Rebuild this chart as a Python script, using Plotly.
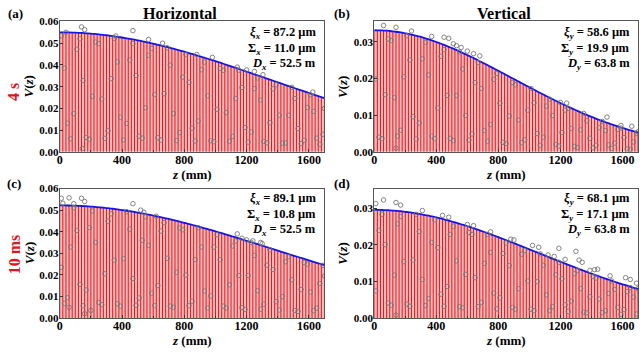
import plotly.graph_objects as go

# ---------------- data ----------------
Z_FRINGE = list(range(0, 1701, 20))     # fringe positions (mm)
Z_CIRC = list(range(10, 1700, 20))      # measured sample positions (mm)
X_TICKS = [0, 400, 800, 1200, 1600]

ENV_A = [0.05500, 0.05499, 0.05498, 0.05495, 0.05490, 0.05485, 0.05478, 0.05470, 0.05461, 0.05451,
         0.05439, 0.05427, 0.05413, 0.05398, 0.05382, 0.05365, 0.05346, 0.05327, 0.05306, 0.05284,
         0.05262, 0.05238, 0.05213, 0.05187, 0.05160, 0.05132, 0.05103, 0.05073, 0.05042, 0.05010,
         0.04978, 0.04944, 0.04910, 0.04875, 0.04839, 0.04802, 0.04765, 0.04726, 0.04687, 0.04648,
         0.04608, 0.04567, 0.04525, 0.04483, 0.04440, 0.04396, 0.04352, 0.04307, 0.04262, 0.04217,
         0.04171, 0.04125, 0.04078, 0.04031, 0.03983, 0.03935, 0.03887, 0.03839, 0.03790, 0.03741,
         0.03693, 0.03643, 0.03594, 0.03545, 0.03495, 0.03446, 0.03396, 0.03347, 0.03297, 0.03248,
         0.03198, 0.03149, 0.03099, 0.03050, 0.03001, 0.02952, 0.02903, 0.02854, 0.02805, 0.02757,
         0.02709, 0.02661, 0.02613, 0.02566, 0.02519, 0.02473]
ENV_B = [0.03320, 0.03319, 0.03317, 0.03312, 0.03307, 0.03299, 0.03290, 0.03279, 0.03266, 0.03252,
         0.03237, 0.03220, 0.03201, 0.03181, 0.03159, 0.03136, 0.03111, 0.03086, 0.03058, 0.03029,
         0.02999, 0.02968, 0.02936, 0.02903, 0.02868, 0.02833, 0.02796, 0.02759, 0.02720, 0.02681,
         0.02641, 0.02600, 0.02559, 0.02517, 0.02475, 0.02432, 0.02389, 0.02345, 0.02301, 0.02256,
         0.02212, 0.02167, 0.02122, 0.02077, 0.02032, 0.01987, 0.01942, 0.01897, 0.01852, 0.01807,
         0.01762, 0.01718, 0.01673, 0.01629, 0.01586, 0.01542, 0.01499, 0.01457, 0.01415, 0.01374,
         0.01333, 0.01292, 0.01252, 0.01213, 0.01174, 0.01136, 0.01099, 0.01062, 0.01026, 0.00991,
         0.00956, 0.00923, 0.00889, 0.00857, 0.00825, 0.00795, 0.00765, 0.00736, 0.00707, 0.00680,
         0.00653, 0.00627, 0.00602, 0.00577, 0.00553, 0.00530]
ENV_C = [0.05220, 0.05219, 0.05218, 0.05215, 0.05211, 0.05206, 0.05200, 0.05193, 0.05185, 0.05176,
         0.05165, 0.05154, 0.05142, 0.05128, 0.05114, 0.05098, 0.05082, 0.05064, 0.05045, 0.05026,
         0.05005, 0.04984, 0.04961, 0.04938, 0.04914, 0.04888, 0.04862, 0.04835, 0.04808, 0.04779,
         0.04749, 0.04719, 0.04688, 0.04656, 0.04623, 0.04590, 0.04556, 0.04521, 0.04486, 0.04450,
         0.04413, 0.04376, 0.04338, 0.04300, 0.04261, 0.04221, 0.04181, 0.04140, 0.04099, 0.04058,
         0.04016, 0.03974, 0.03931, 0.03888, 0.03845, 0.03801, 0.03757, 0.03713, 0.03669, 0.03624,
         0.03579, 0.03534, 0.03489, 0.03444, 0.03398, 0.03353, 0.03307, 0.03261, 0.03216, 0.03170,
         0.03124, 0.03079, 0.03033, 0.02988, 0.02942, 0.02896, 0.02851, 0.02806, 0.02761, 0.02716,
         0.02671, 0.02626, 0.02582, 0.02537, 0.02493, 0.02449]
ENV_D = [0.02950, 0.02949, 0.02948, 0.02945, 0.02941, 0.02937, 0.02931, 0.02924, 0.02916, 0.02907,
         0.02897, 0.02886, 0.02874, 0.02860, 0.02846, 0.02831, 0.02815, 0.02799, 0.02781, 0.02762,
         0.02743, 0.02722, 0.02701, 0.02679, 0.02656, 0.02632, 0.02608, 0.02583, 0.02557, 0.02531,
         0.02503, 0.02476, 0.02448, 0.02419, 0.02390, 0.02360, 0.02330, 0.02299, 0.02268, 0.02236,
         0.02204, 0.02172, 0.02140, 0.02107, 0.02074, 0.02041, 0.02007, 0.01974, 0.01940, 0.01906,
         0.01873, 0.01839, 0.01805, 0.01771, 0.01737, 0.01703, 0.01669, 0.01635, 0.01601, 0.01568,
         0.01534, 0.01501, 0.01468, 0.01435, 0.01402, 0.01369, 0.01337, 0.01305, 0.01273, 0.01242,
         0.01210, 0.01180, 0.01149, 0.01119, 0.01090, 0.01060, 0.01031, 0.01003, 0.00975, 0.00947,
         0.00920, 0.00894, 0.00868, 0.00842, 0.00817, 0.00792]

CIRC_A = [0.0534, 0.0385, 0.0132, 0.0060, 0.0176, 0.0472, 0.0520, 0.0328, 0.0066, 0.0058,
          0.0256, 0.0505, 0.0498, 0.0243, 0.0062, 0.0097, 0.0337, 0.0522, 0.0414, 0.0159,
          0.0055, 0.0131, 0.0422, 0.0498, 0.0351, 0.0072, 0.0063, 0.0203, 0.0444, 0.0476,
          0.0264, 0.0065, 0.0054, 0.0268, 0.0479, 0.0399, 0.0176, 0.0052, 0.0089, 0.0344,
          0.0447, 0.0320, 0.0109, 0.0050, 0.0142, 0.0378, 0.0413, 0.0258, 0.0051, 0.0047,
          0.0196, 0.0384, 0.0375, 0.0181, 0.0049, 0.0071, 0.0245, 0.0376, 0.0296, 0.0112,
          0.0045, 0.0091, 0.0291, 0.0340, 0.0238, 0.0048, 0.0042, 0.0134, 0.0290, 0.0309,
          0.0169, 0.0040, 0.0041, 0.0168, 0.0297, 0.0245, 0.0107, 0.0038, 0.0053, 0.0204,
          0.0263, 0.0186, 0.0063, 0.0035, 0.0081]
CIRC_B = [0.0199, 0.0040, 0.0036, 0.0156, 0.0308, 0.0304, 0.0148, 0.0043, 0.0059, 0.0205,
          0.0317, 0.0251, 0.0096, 0.0035, 0.0079, 0.0254, 0.0299, 0.0210, 0.0043, 0.0036,
          0.0120, 0.0261, 0.0279, 0.0154, 0.0037, 0.0031, 0.0154, 0.0273, 0.0226, 0.0099,
          0.0032, 0.0049, 0.0189, 0.0244, 0.0173, 0.0058, 0.0029, 0.0075, 0.0198, 0.0214,
          0.0133, 0.0026, 0.0023, 0.0098, 0.0189, 0.0183, 0.0087, 0.0025, 0.0033, 0.0114,
          0.0173, 0.0134, 0.0050, 0.0018, 0.0040, 0.0125, 0.0144, 0.0099, 0.0020, 0.0016,
          0.0053, 0.0114, 0.0119, 0.0064, 0.0015, 0.0012, 0.0060, 0.0105, 0.0085, 0.0037,
          0.0011, 0.0018, 0.0066, 0.0083, 0.0058, 0.0019, 0.0009, 0.0024, 0.0061, 0.0065,
          0.0039, 0.0008, 0.0007, 0.0027, 0.0051]
CIRC_C = [0.0235, 0.0068, 0.0094, 0.0329, 0.0511, 0.0406, 0.0156, 0.0057, 0.0130, 0.0419,
          0.0496, 0.0350, 0.0072, 0.0062, 0.0205, 0.0449, 0.0483, 0.0268, 0.0066, 0.0055,
          0.0275, 0.0493, 0.0412, 0.0183, 0.0059, 0.0093, 0.0360, 0.0469, 0.0337, 0.0115,
          0.0057, 0.0151, 0.0403, 0.0442, 0.0277, 0.0055, 0.0050, 0.0212, 0.0417, 0.0409,
          0.0199, 0.0057, 0.0078, 0.0271, 0.0418, 0.0329, 0.0125, 0.0046, 0.0102, 0.0329,
          0.0386, 0.0270, 0.0055, 0.0047, 0.0154, 0.0334, 0.0357, 0.0197, 0.0048, 0.0040,
          0.0197, 0.0350, 0.0290, 0.0127, 0.0041, 0.0064, 0.0245, 0.0316, 0.0225, 0.0076,
          0.0037, 0.0099, 0.0261, 0.0284, 0.0177, 0.0035, 0.0031, 0.0132, 0.0257, 0.0250,
          0.0120, 0.0034, 0.0046, 0.0160, 0.0244]
CIRC_D = [0.0074, 0.0239, 0.0283, 0.0200, 0.0041, 0.0035, 0.0117, 0.0257, 0.0277, 0.0154,
          0.0038, 0.0032, 0.0158, 0.0283, 0.0236, 0.0105, 0.0034, 0.0053, 0.0206, 0.0268,
          0.0192, 0.0065, 0.0032, 0.0086, 0.0228, 0.0250, 0.0156, 0.0031, 0.0028, 0.0119,
          0.0233, 0.0228, 0.0110, 0.0031, 0.0043, 0.0149, 0.0228, 0.0179, 0.0068, 0.0025,
          0.0055, 0.0176, 0.0205, 0.0143, 0.0029, 0.0024, 0.0080, 0.0174, 0.0184, 0.0101,
          0.0024, 0.0020, 0.0099, 0.0175, 0.0144, 0.0063, 0.0020, 0.0031, 0.0118, 0.0152,
          0.0107, 0.0036, 0.0018, 0.0046, 0.0121, 0.0130, 0.0080, 0.0016, 0.0014, 0.0058,
          0.0113, 0.0109, 0.0052, 0.0015, 0.0020, 0.0067, 0.0101, 0.0078, 0.0029, 0.0010,
          0.0023, 0.0072, 0.0083, 0.0057, 0.0011]

# extra measured points lying off the main pattern
OUT_A_Z = [40, 140, 160, 360, 470, 570, 660, 880, 980, 1140, 1200, 1250, 1305, 1625, 1700, 145]
OUT_A_V = [0.0550, 0.0575, 0.0562, 0.0533, 0.0558, 0.0517, 0.0500, 0.0448, 0.0435, 0.0390,
           0.0377, 0.0370, 0.0355, 0.0275, 0.0200, 0.0015]
OUT_B_Z = [60, 140, 240, 370, 450, 480, 510, 530, 560, 600, 640, 680, 1200, 1240, 1500, 1590,
           1660, 1700, 140]
OUT_B_V = [0.0345, 0.0340, 0.0330, 0.0315, 0.0313, 0.0310, 0.0295, 0.0290, 0.0285, 0.0275,
           0.0268, 0.0262, 0.0135, 0.0133, 0.0095, 0.0072, 0.0070, 0.0055, 0.0010]
OUT_C_Z = [10, 20, 60, 90, 140, 160, 470, 520, 540, 620, 1140, 1170, 1200, 1240, 1290, 1300,
           1700, 160, 60, 200]
OUT_C_V = [0.0555, 0.0532, 0.0557, 0.0530, 0.0555, 0.0540, 0.0530, 0.0500, 0.0490, 0.0472,
           0.0390, 0.0370, 0.0362, 0.0358, 0.0350, 0.0345, 0.0195, 0.0020, 0.0050, 0.0035]
OUT_D_Z = [10, 60, 140, 170, 310, 440, 480, 600, 640, 750, 880, 900, 1020, 1060, 1120, 1160,
           1190, 1230, 1300, 1320, 1340, 1390, 1420, 1440, 1520, 1620, 1650, 1700, 1690, 140]
OUT_D_V = [0.0312, 0.0322, 0.0315, 0.0308, 0.0293, 0.0280, 0.0275, 0.0255, 0.0252, 0.0235,
           0.0215, 0.0213, 0.0198, 0.0193, 0.0172, 0.0168, 0.0190, 0.0160, 0.0182, 0.0158,
           0.0152, 0.0130, 0.0132, 0.0133, 0.0115, 0.0110, 0.0105, 0.0080, 0.0095, 0.0008]

TEXT_A = ["<i>ξ<sub>x</sub></i> = 87.2 μm", "Σ<sub><i>x</i></sub> = 11.0 μm", "<i>D<sub>x</sub></i> = 52.5 m"]
TEXT_B = ["<i>ξ<sub>y</sub></i> = 58.6 μm", "Σ<sub><i>y</i></sub> = 19.9 μm", "<i>D<sub>y</sub></i> = 63.8 m"]
TEXT_C = ["<i>ξ<sub>x</sub></i> = 89.1 μm", "Σ<sub><i>x</i></sub> = 10.8 μm", "<i>D<sub>x</sub></i> = 52.5 m"]
TEXT_D = ["<i>ξ<sub>y</sub></i> = 68.1 μm", "Σ<sub><i>y</i></sub> = 17.1 μm", "<i>D<sub>y</sub></i> = 63.8 m"]

# ---------------- layout helpers ----------------
W, H = 640, 353
def PX(x): return x / W
def PY(y): return 1 - y / H

FONT = "Liberation Serif"
RED = "#e3141c"
PINK = "rgba(240,80,80,0.38)"
BLUE = "#1414e6"

panels = [
    dict(env=ENV_A, cv=CIRC_A, oz=OUT_A_Z, ov=OUT_A_V, xd=(57, 323), yd=(16, 151), yr=0.06,
         texts=TEXT_A, tx=316, ty=[28, 44, 60], label="(a)", lx=3, ly=8, vx=26),
    dict(env=ENV_B, cv=CIRC_B, oz=OUT_B_Z, ov=OUT_B_V, xd=(373, 638), yd=(16, 151), yr=0.0356,
         texts=TEXT_B, tx=632, ty=[28, 44, 60], label="(b)", lx=331, ly=8, vx=341),
    dict(env=ENV_C, cv=CIRC_C, oz=OUT_C_Z, ov=OUT_C_V, xd=(57, 323), yd=(189, 323), yr=0.06,
         texts=TEXT_C, tx=316, ty=[200, 216, 232], label="(c)", lx=2, ly=184, vx=26),
    dict(env=ENV_D, cv=CIRC_D, oz=OUT_D_Z, ov=OUT_D_V, xd=(373, 638), yd=(189, 323), yr=0.0353,
         texts=TEXT_D, tx=632, ty=[200, 216, 232], label="(d)", lx=331, ly=184, vx=341),
]

fig = go.Figure()
annotations = []

for i, p in enumerate(panels):
    n = "" if i == 0 else str(i + 1)
    xr, yr_ = "x" + n, "y" + n
    env = p["env"]
    # pink area under fringes
    fig.add_trace(go.Scatter(x=Z_FRINGE, y=env, mode="lines", line=dict(width=0),
                             fill="tozeroy", fillcolor=PINK, xaxis=xr, yaxis=yr_,
                             hoverinfo="skip", showlegend=False))
    # red fringe lines
    sx, sy = [], []
    for z, e in zip(Z_FRINGE, env):
        sx += [z, z, None]
        sy += [0, e, None]
    fig.add_trace(go.Scatter(x=sx, y=sy, mode="lines", line=dict(color=RED, width=1.0),
                             xaxis=xr, yaxis=yr_, hoverinfo="skip", showlegend=False))
    # blue envelope
    fig.add_trace(go.Scatter(x=Z_FRINGE, y=env, mode="lines",
                             line=dict(color=BLUE, width=1.8, shape="spline"),
                             xaxis=xr, yaxis=yr_, showlegend=False))
    # measured points
    fig.add_trace(go.Scatter(x=Z_CIRC + p["oz"], y=p["cv"] + p["ov"], mode="markers",
                             marker=dict(symbol="circle-open", size=4.5, color="#767676",
                                         line=dict(width=0.9)),
                             xaxis=xr, yaxis=yr_, showlegend=False))

    axcommon = dict(showline=True, mirror=True, linecolor="#555", linewidth=1,
                    ticks="inside", ticklen=3, tickcolor="#333", showgrid=False,
                    zeroline=False)
    fig.update_layout(**{
        "xaxis" + n: dict(domain=[PX(p["xd"][0]), PX(p["xd"][1])], range=[0, 1700],
                          tickvals=X_TICKS, anchor=yr_, ticklabelstandoff=-3,
                          tickfont=dict(family=FONT, size=12, color="black", weight=700),
                          minor=dict(dtick=200, tick0=0, ticks="inside", ticklen=2,
                                     tickcolor="#333"),
                          **axcommon),
        "yaxis" + n: dict(domain=[PY(p["yd"][1]), PY(p["yd"][0])], range=[0, p["yr"]],
                          dtick=0.01, tickformat=".2f", anchor=xr, ticklabelstandoff=-2,
                          tickfont=dict(family=FONT, size=11, color="black", weight=700),
                          **axcommon),
    })

    for t, yy in zip(p["texts"], p["ty"]):
        annotations.append(dict(text=t, x=PX(p["tx"]), y=PY(yy), xref="paper", yref="paper",
                                xanchor="right", yanchor="middle", showarrow=False,
                                font=dict(family=FONT, size=12.5, color="black", weight=700)))
    annotations.append(dict(text=p["label"], x=PX(p["lx"]), y=PY(p["ly"]), xref="paper",
                            yref="paper", xanchor="left", yanchor="middle", showarrow=False,
                            font=dict(family=FONT, size=13, color="black", weight=700)))
    # x-axis title
    xc = (p["xd"][0] + p["xd"][1]) / 2
    annotations.append(dict(text="<i>z</i> (mm)", x=PX(xc), y=PY(p["yd"][1] + 23),
                            xref="paper", yref="paper", xanchor="center", yanchor="middle",
                            showarrow=False,
                            font=dict(family=FONT, size=13, color="black", weight=700)))
    # y-axis title
    yc = (p["yd"][0] + p["yd"][1]) / 2
    annotations.append(dict(text="<i>V</i>(<i>z</i>)", x=PX(p["vx"]), y=PY(yc), xref="paper",
                            yref="paper", xanchor="center", yanchor="middle", textangle=-90,
                            showarrow=False,
                            font=dict(family=FONT, size=13, color="black", weight=700)))

# column titles
annotations.append(dict(text="Horizontal", x=PX(178), y=PY(8), xref="paper", yref="paper",
                        xanchor="center", yanchor="middle", showarrow=False,
                        font=dict(family=FONT, size=16, color="black", weight=700)))
annotations.append(dict(text="Vertical", x=PX(503), y=PY(8), xref="paper", yref="paper",
                        xanchor="center", yanchor="middle", showarrow=False,
                        font=dict(family=FONT, size=16, color="black", weight=700)))
# row labels
annotations.append(dict(text="4 s", x=PX(11), y=PY(89), xref="paper", yref="paper",
                        xanchor="center", yanchor="middle", textangle=-90, showarrow=False,
                        font=dict(family=FONT, size=16, color=RED, weight=700)))
annotations.append(dict(text="10 ms", x=PX(11), y=PY(257), xref="paper", yref="paper",
                        xanchor="center", yanchor="middle", textangle=-90, showarrow=False,
                        font=dict(family=FONT, size=16, color=RED, weight=700)))

fig.update_layout(width=W, height=H, margin=dict(l=0, r=0, t=0, b=0),
                  paper_bgcolor="white", plot_bgcolor="white",
                  annotations=annotations, showlegend=False)

fig.write_html("out.html", config={"displayModeBar": False},
               post_script="document.body.style.margin='0';document.body.style.overflow='hidden';")
